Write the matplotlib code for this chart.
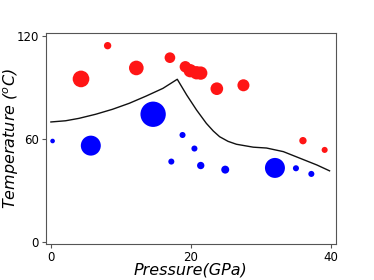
import matplotlib
matplotlib.use('Agg')
import matplotlib.pyplot as plt

# hot samples (red)
red_p = [4.3, 8.1, 12.2, 17.0, 19.2, 19.9, 20.8, 21.4, 23.7, 27.5, 36.0, 39.1]
red_t = [95.0, 114.4, 101.4, 107.4, 102.1, 99.8, 98.6, 98.4, 89.3, 91.3, 59.0, 53.6]
red_s = [144, 28, 111, 59, 67, 92, 92, 92, 83, 75, 28, 19]

# cold samples (blue)
blue_p = [0.24, 5.7, 14.6, 18.8, 17.2, 20.5, 21.4, 24.9, 32.0, 35.0, 37.2]
blue_t = [58.8, 56.1, 74.4, 62.3, 46.8, 54.4, 44.5, 42.1, 43.1, 42.9, 39.6]
blue_s = [11, 207, 333, 19, 19, 19, 28, 33, 207, 19, 19]

# boundary curve
curve_p = [0, 2.1, 4.0, 6.4, 8.8, 11.2, 13.6, 16.0, 18.05, 19.4, 20.8, 22.2,
           23.2, 24.1, 25.3, 26.5, 28.9, 30.8, 33.2, 35.6, 38.0, 39.8]
curve_t = [69.9, 70.6, 72.0, 74.4, 77.3, 80.8, 85.0, 89.5, 94.8, 85.6, 76.9, 69.1,
           64.6, 61.3, 58.6, 56.9, 55.2, 54.7, 52.6, 48.7, 44.8, 41.4]

fig = plt.figure(figsize=(3.74, 2.8), dpi=100)
ax = fig.add_axes([0.123, 0.129, 0.775, 0.752])

ax.plot(curve_p, curve_t, color='#111111', lw=1.0)
ax.scatter(red_p, red_t, s=red_s, color='#ff1515', edgecolors='none')
ax.scatter(blue_p, blue_t, s=blue_s, color='#0000ff', edgecolors='none')

ax.set_xlim(-0.7, 40.7)
ax.set_ylim(-1.2, 121.6)
ax.set_xticks([0, 20, 40])
ax.set_yticks([0, 60, 120])
ax.tick_params(labelsize=8.5, length=3, pad=2, color='#555555')
for sp in ax.spines.values():
    sp.set_color('#555555')

ax.set_xlabel('Pressure(GPa)', fontsize=11.5, style='italic', labelpad=-1)
ax.set_ylabel('Temperature ($^oC$)', fontsize=11.5, style='italic', labelpad=-3)

fig.savefig('out.png', dpi=100)
